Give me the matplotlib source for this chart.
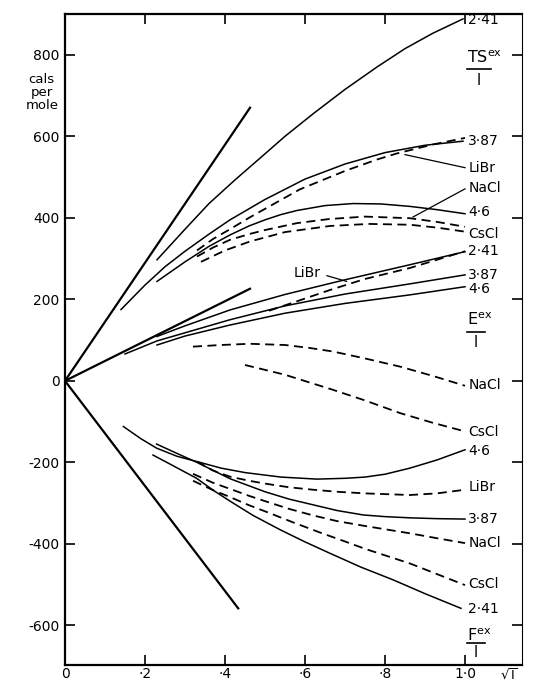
import matplotlib.pyplot as plt

plt.rcParams['font.family'] = ['DejaVu Sans']
plt.rcParams['mathtext.fontset'] = 'dejavusans'

# limiting slopes
ts_lim_x = [0, 0.4625]
ts_lim_y = [0, 670]
e_lim_x = [0, 0.4625]
e_lim_y = [0, 226]
f_lim_x = [0, 0.433]
f_lim_y = [0, -558]

# TS(ex)/I
ts241_x = [0.23, 0.3, 0.36, 0.425, 0.5, 0.55, 0.62, 0.7, 0.78, 0.85, 0.92, 0.995]
ts241_y = [297, 372, 435, 493, 557, 600, 655, 715, 770, 815, 853, 888]
ts387_x = [0.14, 0.2, 0.25, 0.3, 0.36, 0.4125, 0.5, 0.6, 0.7, 0.8, 0.9, 0.995]
ts387_y = [175, 235, 280, 318, 360, 395, 445, 495, 532, 560, 578, 588]
ts46_x = [0.23, 0.3, 0.36, 0.4125, 0.46, 0.5, 0.54, 0.58, 0.65, 0.72, 0.79, 0.8625, 0.93, 1.0]
ts46_y = [244, 292, 330, 358, 380, 395, 408, 418, 430, 435, 434, 428, 420, 410]
ts_libr_x = [0.33, 0.37, 0.4125, 0.46, 0.5, 0.5875, 0.7, 0.78, 0.83, 0.92, 1.0]
ts_libr_y = [320, 348, 372, 400, 422, 470, 515, 543, 558, 580, 596]
ts_nacl_x = [0.33, 0.37, 0.4125, 0.46, 0.5, 0.58, 0.66, 0.75, 0.8625, 0.93, 1.0]
ts_nacl_y = [305, 327, 346, 360, 370, 387, 397, 403, 399, 390, 378]
ts_cscl_x = [0.34, 0.4, 0.4625, 0.55, 0.6625, 0.76, 0.8625, 0.93, 1.0]
ts_cscl_y = [292, 320, 342, 365, 380, 385, 383, 376, 366]

# E(ex)/I
e241_x = [0.23, 0.3, 0.4125, 0.55, 0.7, 0.8625, 1.0]
e241_y = [109, 135, 174, 212, 248, 285, 317]
e387_x = [0.15, 0.23, 0.4125, 0.55, 0.7, 0.8625, 1.0]
e387_y = [66, 98, 150, 184, 213, 238, 260]
e46_x = [0.23, 0.3, 0.4125, 0.55, 0.7, 0.8625, 1.0]
e46_y = [88, 110, 137, 166, 190, 211, 231]
e_libr_x = [0.51, 0.6, 0.6625, 0.75, 0.8625, 1.0]
e_libr_y = [172, 202, 223, 250, 277, 318]
e_nacl_x = [0.32, 0.39, 0.4625, 0.55, 0.61, 0.67, 0.75, 0.8375, 0.92, 1.0]
e_nacl_y = [84, 88, 91, 88, 81, 72, 55, 35, 12, -12]
e_cscl_x = [0.45, 0.55, 0.67, 0.75, 0.8375, 0.92, 1.0]
e_cscl_y = [39, 15, -22, -48, -79, -103, -124]

# F(ex)/I
f46_x = [0.146, 0.19, 0.229, 0.28, 0.3375, 0.39, 0.45, 0.54, 0.63, 0.7, 0.75, 0.8, 0.8625, 0.93, 1.0]
f46_y = [-112, -142, -165, -185, -200, -214, -225, -236, -241, -239, -236, -229, -214, -194, -169]
f387_x = [0.229, 0.28, 0.33, 0.4125, 0.5, 0.56, 0.62, 0.68, 0.746, 0.8, 0.8625, 0.93, 1.0]
f387_y = [-155, -178, -200, -240, -272, -290, -304, -318, -329, -333, -336, -338, -339]
f241_x = [0.22, 0.27, 0.329, 0.37, 0.4125, 0.47, 0.5375, 0.6, 0.6625, 0.74, 0.82, 0.9, 0.99]
f241_y = [-182, -208, -239, -268, -295, -330, -365, -395, -423, -457, -488, -522, -558]
f_libr_x = [0.33, 0.37, 0.4125, 0.46, 0.5, 0.56, 0.62, 0.68, 0.75, 0.8625, 0.93, 1.0]
f_libr_y = [-198, -220, -235, -245, -252, -261, -267, -272, -276, -280, -276, -267]
f_nacl_x = [0.32, 0.37, 0.4125, 0.46, 0.5, 0.56, 0.62, 0.68, 0.75, 0.8625, 0.93, 1.0]
f_nacl_y = [-228, -250, -265, -282, -295, -314, -330, -344, -356, -374, -386, -398]
f_cscl_x = [0.32, 0.37, 0.4125, 0.46, 0.5, 0.57, 0.6375, 0.7, 0.75, 0.8625, 0.93, 1.0]
f_cscl_y = [-245, -268, -285, -305, -320, -347, -372, -394, -412, -448, -474, -501]

# right-hand labels (text, y)
right_labels = [
    ("2·41", 886), ("3·87", 589), ("LiBr", 523), ("NaCl", 474), ("4·6", 415),
    ("CsCl", 361), ("2·41", 319), ("3·87", 260), ("4·6", 226),
    ("NaCl", -10), ("CsCl", -125), ("4·6", -172), ("LiBr", -260),
    ("3·87", -339), ("NaCl", -398), ("CsCl", -498), ("2·41", -560),
]

xticks = [0, 0.2, 0.4, 0.6, 0.8, 1.0]
xticklabels = ["0", "·2", "·4", "·6", "·8", "1·0"]
yticks = [-600, -400, -200, 0, 200, 400, 600, 800]
yticklabels = ["-600", "-400", "-200", "0", "200", "400", "600", "800"]

fig = plt.figure(figsize=(5.33, 6.83), dpi=100)
ax = fig.add_axes([65 / 533, 18 / 683, 457 / 533, 651 / 683])
ax.set_xlim(0, 1.1425)
ax.set_ylim(-697, 900)

solid = dict(color="black", lw=1.1)
dashed = dict(color="black", lw=1.3, linestyle=(0, (5, 3)))

for xs, ys in [(ts_lim_x, ts_lim_y), (e_lim_x, e_lim_y), (f_lim_x, f_lim_y)]:
    ax.plot(xs, ys, color="black", lw=1.6)

for xs, ys in [(ts241_x, ts241_y), (ts387_x, ts387_y), (ts46_x, ts46_y),
               (e241_x, e241_y), (e387_x, e387_y), (e46_x, e46_y),
               (f46_x, f46_y), (f387_x, f387_y), (f241_x, f241_y)]:
    ax.plot(xs, ys, **solid)

for xs, ys in [(ts_libr_x, ts_libr_y), (ts_nacl_x, ts_nacl_y), (ts_cscl_x, ts_cscl_y),
               (e_libr_x, e_libr_y), (e_nacl_x, e_nacl_y), (e_cscl_x, e_cscl_y),
               (f_libr_x, f_libr_y), (f_nacl_x, f_nacl_y), (f_cscl_x, f_cscl_y)]:
    ax.plot(xs, ys, **dashed)

for txt, y in right_labels:
    ax.text(1.008, y, txt, fontsize=10, va="center", ha="left")

# leader lines
ax.plot([0.85, 1.0], [555, 523], color="black", lw=0.9)
ax.plot([0.87, 1.0], [402, 471], color="black", lw=0.9)
ax.text(0.605, 265, "LiBr", fontsize=10, va="center", ha="center")
ax.plot([0.655, 0.704], [258, 244], color="black", lw=0.9)


# group labels: symbol with superscript 'ex' over a bar, then I
def frac_label(sym, y_top, y_bar, y_bot, bar_end):
    ax.text(1.005, y_top, r"$\mathrm{" + sym + r"}^{\mathrm{ex}}$", fontsize=11.5,
            ha="left", va="center")
    ax.plot([1.005, bar_end], [y_bar, y_bar], color="black", lw=1.2, clip_on=False)
    ax.text((1.005 + bar_end) / 2, y_bot, "I", fontsize=10.5, ha="center", va="center")


frac_label("TS", 792, 765, 738, 1.065)
frac_label("E", 150, 121, 95, 1.05)
frac_label("F", -624, -644, -666, 1.05)

ax.text(-0.058, 707, "cals\nper\nmole", fontsize=9.5, ha="center", va="center",
        linespacing=1.0)
ax.text(1.11, -0.004, r"$\sqrt{\mathrm{I}}$", fontsize=9.5, ha="center", va="top",
        transform=ax.get_xaxis_transform())

ax.set_xticks(xticks)
ax.set_xticklabels(xticklabels)
ax.set_yticks(yticks)
ax.set_yticklabels(yticklabels)
ax.tick_params(direction="in", length=7, width=1.2, top=True, right=True,
               labelsize=10, pad=4)
ax.tick_params(axis="x", pad=1.5)
for s in ["left", "bottom", "top"]:
    ax.spines[s].set_linewidth(1.6)
ax.spines["right"].set_linewidth(0.8)

fig.savefig("out.png", dpi=100)
